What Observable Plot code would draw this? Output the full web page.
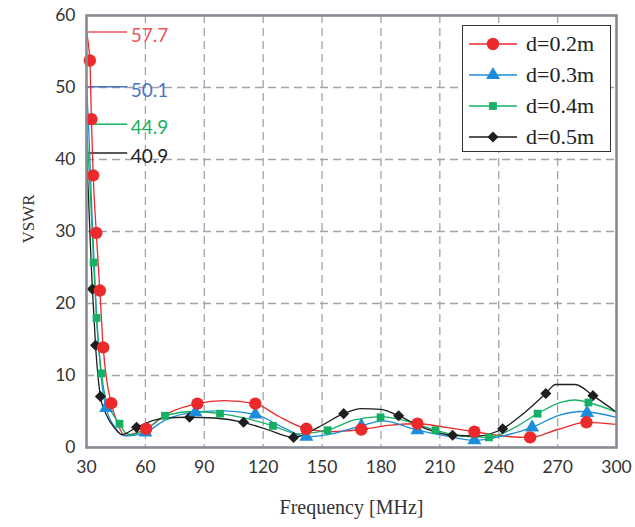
<!DOCTYPE html>
<html>
<head>
<meta charset="utf-8">
<script src="https://cdn.jsdelivr.net/npm/d3@7"></script>
<script src="https://cdn.jsdelivr.net/npm/@observablehq/plot@0.6"></script>
<style>
  html, body { margin: 0; padding: 0; background: #fff; }
  #wrap { position: relative; width: 635px; height: 527px; }
  #legend { position: absolute; left: 462px; top: 25px; width: 149px; height: 127px;
            border: 1.6px solid #333; background: #fff; box-sizing: border-box; padding-top: 2px; }
  .row { height: 31px; display: flex; align-items: center; }
  .row span { font-family: "Liberation Serif", "DejaVu Serif", serif; font-size: 22px; color: #222; margin-left: 7px; }
</style>
</head>
<body>
<div id="wrap"></div>
<script>
// ---- data ----
const seriesNames = ["d=0.2m", "d=0.3m", "d=0.4m", "d=0.5m"];
const seriesColors = ["#ec2a2c", "#1b8ddb", "#16b064", "#1e1e1e"];
const peakColors = ["#f0555a", "#4a74c6", "#1cb060", "#222222"];
const seriesSymbols = ["circle", "triangle", "square", "diamond2"];
const seriesR = [6.2, 5.2, 4.4, 5.0];
const xTicks = [30, 60, 90, 120, 150, 180, 210, 240, 270, 300];
const yTicks = [0, 10, 20, 30, 40, 50, 60];

// d = 0.2 m
const lineF02 = [30, 31.7, 32.5, 33.4, 35, 36.8, 38.5, 40.5, 42.6, 46, 49.5, 55, 60.4, 72, 86.5, 100, 116, 128, 142, 155, 170, 185, 198.6, 213, 227.6, 242, 256, 270, 284.7, 300];
const lineV02 = [57.7, 53.75, 45.6, 37.8, 29.8, 21.8, 13.9, 9.0, 6.15, 3.2, 1.7, 2.0, 2.6, 4.8, 6.1, 6.5, 6.1, 4.3, 2.6, 2.2, 2.5, 3.1, 3.3, 2.8, 2.2, 1.6, 1.4, 2.5, 3.5, 3.2];
const markF02 = [31.7, 32.5, 33.4, 35, 36.8, 38.5, 42.6, 60.4, 86.5, 116, 142, 170, 198.6, 227.6, 256, 284.7];
const markV02 = [53.75, 45.6, 37.8, 29.8, 21.8, 13.9, 6.15, 2.6, 6.1, 6.1, 2.6, 2.5, 3.3, 2.2, 1.4, 3.5];

// d = 0.3 m
const lineF03 = [30, 31, 32, 33, 34, 35, 36.5, 38, 40, 44, 50, 60, 70, 85.5, 100, 116, 130, 142, 155, 170, 181, 198.6, 213, 227.6, 242, 257, 271, 282, 300];
const lineV03 = [50.1, 45, 38, 31, 25, 19, 13, 8.5, 5.5, 3.0, 1.6, 2.1, 3.8, 4.9, 5.1, 4.6, 2.8, 1.5, 1.9, 3.0, 3.7, 2.4, 1.6, 1.0, 1.6, 2.8, 4.5, 5.0, 4.2];
const markF03 = [40, 60, 85.5, 116, 142, 170, 198.6, 227.6, 257, 285];
const markV03 = [5.5, 2.1, 4.9, 4.6, 1.5, 3.0, 2.4, 1.0, 2.8, 4.8];

// d = 0.4 m
const lineF04 = [30, 31, 32, 33, 33.6, 35.1, 37.6, 40, 43, 46.8, 50, 53, 60, 70, 85, 98, 112, 125, 138, 152.8, 166, 179.8, 194, 207.8, 221, 235, 247, 259.8, 272, 279, 285.7, 300];
const lineV04 = [44.9, 40, 35, 29.5, 25.7, 18, 10.3, 6.5, 4.8, 3.3, 2.0, 1.8, 2.5, 4.4, 5.0, 4.7, 4.0, 3.0, 1.9, 2.4, 3.8, 4.3, 3.6, 2.4, 1.6, 1.4, 2.6, 4.7, 6.3, 6.6, 6.25, 4.9];
const markF04 = [33.6, 35.1, 37.6, 46.8, 70, 98, 125, 152.8, 179.8, 207.8, 235, 259.8, 285.7];
const markV04 = [25.7, 18, 10.3, 3.3, 4.4, 4.7, 3.0, 2.4, 4.2, 2.4, 1.4, 4.7, 6.25];

// d = 0.5 m
const lineF05 = [30, 31, 32, 33, 34.6, 37.1, 40, 44, 48, 55.5, 68, 82.5, 95, 110, 122, 135.5, 148, 161, 170, 180, 189, 203, 216.5, 229, 242, 253, 264, 269, 279, 288, 300];
const lineV05 = [40.9, 35, 28, 22, 14.2, 7.1, 4.6, 2.8, 1.8, 2.8, 4.0, 4.2, 4.1, 3.5, 2.5, 1.4, 2.8, 4.7, 5.4, 5.3, 4.4, 2.6, 1.7, 1.6, 2.6, 4.8, 7.5, 8.75, 8.75, 7.2, 4.9];
const markF05 = [33, 34.6, 37.1, 55.5, 82.5, 110, 135.5, 161, 189, 216.5, 242, 264, 288];
const markV05 = [22, 14.2, 7.1, 2.8, 4.2, 3.5, 1.4, 4.7, 4.4, 1.7, 2.6, 7.5, 7.2];

// ---- tables ----
const lineF = [lineF02, lineF03, lineF04, lineF05];
const lineV = [lineV02, lineV03, lineV04, lineV05];
const markF = [markF02, markF03, markF04, markF05];
const markV = [markV02, markV03, markV04, markV05];
const lines = [], marks = [], peaks = [];
seriesNames.forEach((s, i) => {
  lineF[i].forEach((f, j) => lines.push({s, f, v: lineV[i][j]}));
  markF[i].forEach((f, j) => marks.push({s, f, v: markV[i][j]}));
  peaks.push({s, v: lineV[i][0], label: lineV[i][0].toFixed(1), color: peakColors[i]});
});

const serif = '"Liberation Serif", "DejaVu Serif", serif';
const chartMarks = [
  Plot.gridX(xTicks.slice(1, -1), {stroke: "#9ea3ad", strokeOpacity: 1, strokeDasharray: "8,5", strokeWidth: 1.3}),
  Plot.gridY(yTicks.slice(1, -1), {stroke: "#9ea3ad", strokeOpacity: 1, strokeDasharray: "8,5", strokeWidth: 1.3}),
  Plot.axisX(xTicks, {tickSize: 0, tickPadding: 13, fontSize: 17.5, fill: "#333", label: null}),
  Plot.axisY(yTicks, {tickSize: 0, tickPadding: 11, fontSize: 17.5, fill: "#333", label: null}),
  Plot.text(["Frequency [MHz]"], {frameAnchor: "bottom", dy: 66, fontFamily: serif, fontSize: 20, fill: "#333"}),
  Plot.text(["VSWR"], {frameAnchor: "left", dx: -58, dy: 12, rotate: -90, fontFamily: serif, fontSize: 17, fill: "#333"}),
  Plot.ruleY(peaks, {y: "v", x1: 30, x2: 51, stroke: "color", strokeWidth: 1.5}),
  Plot.text(peaks, {y: "v", x: 52.5, text: "label", fill: "color", textAnchor: "start", dy: 4, fontSize: 19}),
];
seriesNames.forEach((s, i) => {
  chartMarks.push(Plot.line(lines.filter(d => d.s === s), {x: "f", y: "v", stroke: seriesColors[i], strokeWidth: 1.3, curve: "monotone-x"}));
});
seriesNames.slice().reverse().forEach((s) => {
  const i = seriesNames.indexOf(s);
  chartMarks.push(Plot.dot(marks.filter(d => d.s === s), {x: "f", y: "v", symbol: () => seriesSymbols[i], r: seriesR[i], fill: seriesColors[i], stroke: "none"}));
});
chartMarks.push(Plot.frame({stroke: "#868b94", strokeWidth: 2.6}));

const chart = Plot.plot({
  width: 635, height: 527,
  marginLeft: 86, marginRight: 19, marginTop: 15, marginBottom: 80,
  style: {fontFamily: "Lato, 'Liberation Sans', sans-serif", fontSize: "17px", background: "#fff"},
  x: {domain: [30, 300]},
  y: {domain: [0, 60]},
  symbol: {type: "identity"},
  marks: chartMarks
});
const wrap = document.getElementById("wrap");
wrap.appendChild(chart);

// ---- legend ----
const legend = document.createElement("div");
legend.id = "legend";
const symTypes = {circle: d3.symbolCircle, triangle: d3.symbolTriangle, square: d3.symbolSquare, diamond2: d3.symbolDiamond2};
seriesNames.forEach((s, i) => {
  const row = document.createElement("div");
  row.className = "row";
  const svg = d3.create("svg").attr("width", 52).attr("height", 20).style("margin-left", "4px");
  svg.append("line").attr("x1", 2).attr("x2", 50).attr("y1", 10).attr("y2", 10)
    .attr("stroke", seriesColors[i]).attr("stroke-width", 1.5);
  svg.append("path").attr("transform", "translate(26,10)")
    .attr("d", d3.symbol(symTypes[seriesSymbols[i]], Math.PI * seriesR[i] * seriesR[i])())
    .attr("fill", seriesColors[i]);
  row.appendChild(svg.node());
  const t = document.createElement("span");
  t.textContent = s;
  row.appendChild(t);
  legend.appendChild(row);
});
wrap.appendChild(legend);
</script>
</body>
</html>
